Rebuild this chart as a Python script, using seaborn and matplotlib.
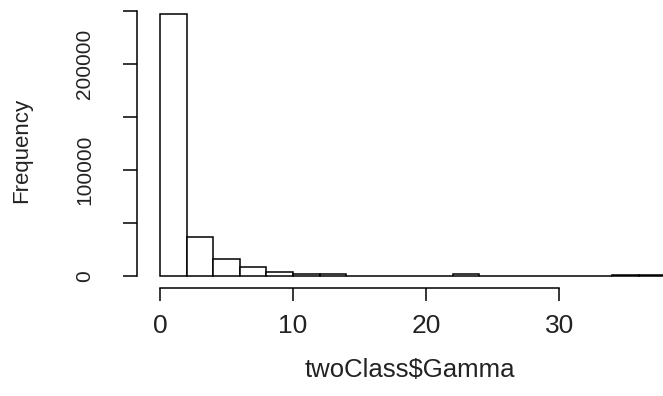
import matplotlib
matplotlib.use("Agg")
import matplotlib.pyplot as plt
import seaborn as sns
import numpy as np

# Histogram of twoClass$Gamma: bin edges (width 2) and the frequency in each bin
bin_edges = [0, 2, 4, 6, 8, 10, 12, 14, 16, 18, 20, 22, 24, 26, 28, 30, 32, 34, 36, 38]
bin_counts = [246800, 36700, 16300, 8500, 3800, 1900, 1900, 0, 0, 0,
              0, 2200, 0, 0, 0, 0, 0, 1000, 1000]

x_ticks = [0, 10, 20, 30]
y_ticks = [0, 50000, 100000, 150000, 200000, 250000]
y_tick_labels = ["0", "", "100000", "", "200000", ""]

sns.set_style("white")
plt.rcParams["font.family"] = ["Liberation Sans", "DejaVu Sans"]

fig = plt.figure(figsize=(6.63, 3.96), dpi=100)
W, H = 663, 396
left_px, right_px, top_px, bottom_px = 137, 663, 4, 288
ax = fig.add_axes([left_px / W, 1 - bottom_px / H,
                   (right_px - left_px) / W, (bottom_px - top_px) / H])

bin_mids = [(a + b) / 2 for a, b in zip(bin_edges[:-1], bin_edges[1:])]
sns.histplot(x=bin_mids, weights=bin_counts, bins=bin_edges, ax=ax,
             color="white", edgecolor="black", linewidth=1.1, alpha=1.0)

ax.set_xlim(-1.73, 37.8)
ax.set_ylim(-11000, 256500)

for side in ("top", "right"):
    ax.spines[side].set_visible(False)
ax.spines["left"].set_bounds(0, 250000)
ax.spines["bottom"].set_bounds(0, 30)
for side in ("left", "bottom"):
    ax.spines[side].set_linewidth(1.1)
    ax.spines[side].set_color("black")

ax.set_xticks(x_ticks)
ax.set_xticklabels([str(t) for t in x_ticks])
ax.set_yticks(y_ticks)
ax.set_yticklabels(y_tick_labels, rotation=90, va="center")

ax.tick_params(axis="x", direction="out", length=9, width=1.1, pad=10,
               labelsize=19, colors="black", bottom=True)
ax.tick_params(axis="y", direction="out", length=10, width=1.1, pad=21,
               labelsize=15, colors="black", left=True)
for lab in ax.get_yticklabels():
    lab.set_color("#222222")
for lab in ax.get_xticklabels():
    lab.set_color("#222222")

ax.set_xlabel("twoClass$Gamma", fontsize=18.5, color="#222222")
ax.set_ylabel("Frequency", fontsize=16, color="#222222")
ax.xaxis.set_label_coords((410 - left_px) / (right_px - left_px),
                          -(370 - bottom_px) / (bottom_px - top_px))
ax.xaxis.label.set_va("center")
ax.yaxis.set_label_coords(-(left_px - 22) / (right_px - left_px),
                          (bottom_px - 150) / (bottom_px - top_px))
ax.yaxis.label.set_va("center")

fig.savefig("out.png", dpi=100, facecolor="white")
